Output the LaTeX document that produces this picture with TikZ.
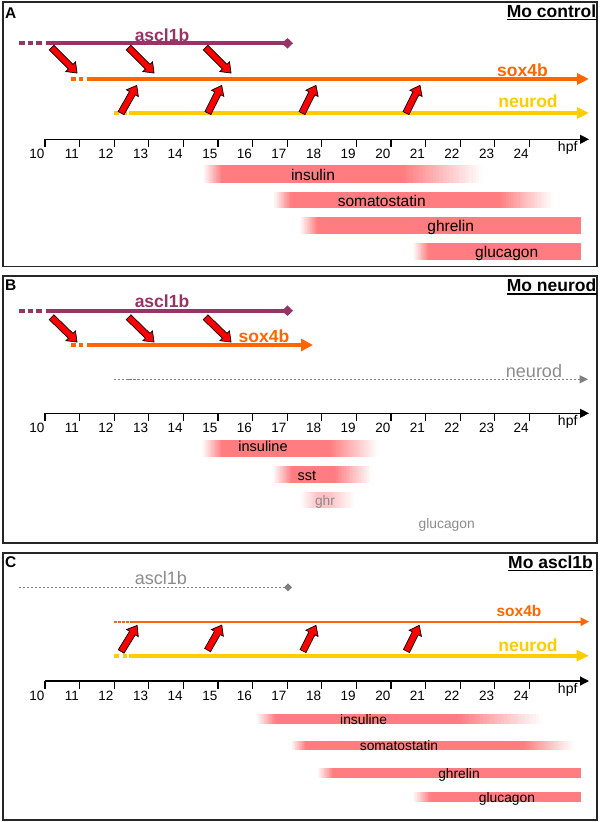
\documentclass[tikz,border=0pt]{standalone}
\usepackage{fontspec}
\setmainfont{Liberation Sans}
\usetikzlibrary{arrows.meta,shapes.arrows,calc}
\definecolor{ascl}{RGB}{153,51,102}
\definecolor{soxc}{RGB}{255,102,0}
\definecolor{neuc}{RGB}{255,204,0}
\definecolor{barc}{RGB}{255,125,128}
\definecolor{barl}{RGB}{255,195,198}
\definecolor{grayl}{RGB}{128,128,128}
\definecolor{grayt}{RGB}{140,140,140}
\newcommand\fsz[1]{\fontsize{#1}{#1}\selectfont}
% stepped gradient from white (at x0) to colour (at x1), x0<x1
\newcommand\fadein[5]{%
  \foreach \k in {0,...,23}{%
    \pgfmathsetmacro\pc{(\k+0.5)/24*100}%
    \fill[#5!\pc!white] ({#3+(#4-(#3))*\k/24},#1) rectangle ({#3+(#4-(#3))*(\k+1)/24+0.25},#2);}}
% stepped gradient from colour (at x2) to white (at x3), x2<x3
\newcommand\fadeout[5]{%
  \foreach \k in {0,...,23}{%
    \pgfmathsetmacro\pc{100-(\k+0.5)/24*100}%
    \fill[#5!\pc!white] ({#3+(#4-(#3))*\k/24-0.25},#1) rectangle ({#3+(#4-(#3))*(\k+1)/24},#2);}}
% fading bar: y1 y2 x0 x1 x2 x3 colour
\newcommand\fadebar[7]{%
  \fadein{#1}{#2}{#3}{#4}{#7}
  \fill[#7] (#4,#1) rectangle (#5,#2);
  \ifdim#6pt>#5pt \fadeout{#1}{#2}{#5}{#6}{#7}\fi}
% block arrow: name, start, end
\newcommand\barrow[3]{%
  \path let \p1=#2, \p2=#3, \n1={veclen(\x2-\x1,\y2-\y1)} in
    #2 -- #3 node[blockarr, midway, minimum height=\n1, name=#1]{};}
% time axis: y, prefix
\newcommand\timeaxis[2]{%
  \draw[axisline] (45,#1) -- (589,#1);
  \foreach \t [count=\i from 0] in {10,...,24}{%
    \draw[tickline] (45+34.6*\i,#1) -- (45+34.6*\i,#1+8);
    \node[ticklab] (#2t\t) at (45+34.6*\i-0.5,#1+14.5) {\t};}
  \node[font=\fsz{14}, inner sep=0] (#2hpf) at (567.7,#1+9) {hpf};}
\begin{document}
\begin{tikzpicture}[x=1pt,y=-1pt,
  gl/.style={line width=4pt},
  blockarr/.style={single arrow, draw=black, line width=0.7pt, fill=red,
    inner xsep=0pt, inner ysep=3pt, text height=0pt, text depth=0pt,
    single arrow head extend=3.5pt, single arrow tip angle=75, sloped},
  tickline/.style={line width=1.2pt},
  axisline/.style={line width=1.3pt,-{Triangle[length=9pt,width=9pt]}},
  border/.style={draw=black!85, line width=1.3pt},
  panellab/.style={font=\bfseries\fsz{15.5}, anchor=base west, inner sep=0pt},
  ptitle/.style={font=\bfseries\fsz{17.5}, anchor=base east, inner sep=0pt},
  genebold/.style={font=\bfseries\fsz{17.5}, anchor=base, inner sep=0pt},
  genegray/.style={font=\fsz{18}, text=grayt, anchor=base, inner sep=0pt},
  barlab/.style={font=\fsz{15.5}, anchor=base, inner sep=0pt},
  barlabs/.style={font=\fsz{14.5}, anchor=base, inner sep=0pt},
  barlabc/.style={font=\fsz{13.8}, anchor=base, inner sep=0pt},
  ticklab/.style={font=\fsz{13.5}, anchor=east, inner sep=0pt},
  dotline/.style={grayl, line width=1.5pt, dash pattern=on 2pt off 2pt},
  under/.style={line width=1.3pt}
]
\useasboundingbox (0,0) rectangle (600,822);
\fill[white] (0,0) rectangle (600,822);

% ================= Panel A =================
\draw[border] (3,2) rectangle (597,266.5);
\node[panellab] (labA) at (5,18.3) {A};
\node[ptitle] (titA) at (596.5,17.3) {Mo control};
\draw[under] ([yshift=-2.5pt]titA.base west) -- ([yshift=-2.5pt]titA.base east);

\draw[gl, ascl, dash pattern=on 5.5pt off 3pt] (19,43.3) -- (42,43.3);
\draw[gl, ascl, -{Turned Square[length=11pt,width=10.5pt]}] (45.7,43.3) -- (293,43.3);
\node[genebold, text=ascl] (A-ascl) at (162,41.5) {ascl1b};

\draw[gl, soxc, dash pattern=on 4.5pt off 3pt] (71,79) -- (84,79);
\draw[gl, soxc, -{Triangle[length=12pt,width=11pt]}] (87.3,79) -- (589,79);
\node[genebold, text=soxc] (A-sox) at (522.5,76) {sox4b};

\draw[gl, neuc, dash pattern=on 4.7pt off 4.3pt] (114,113) -- (127,113);
\draw[gl, neuc, -{Triangle[length=12pt,width=11pt]}] (129,113) -- (589,113);
\node[genebold, text=neuc] (A-neu) at (528,107.3) {neurod};

\barrow{aA1}{(50,46)}{(75.5,71.5)}
\barrow{aA2}{(127,46)}{(152.5,71.5)}
\barrow{aA3}{(204,46)}{(229.5,71.5)}
\barrow{aA4}{(120,115)}{(135.7,87.3)}
\barrow{aA5}{(207,115)}{(220.7,87.3)}
\barrow{aA6}{(301,115)}{(315,87.3)}
\barrow{aA7}{(405,115)}{(419,87.3)}

\timeaxis{139.3}{A}

\fadebar{165}{182.7}{203}{222}{403}{483}{barc}
\node[barlab] (A-ins) at (313,180) {insulin};
\fadebar{191.7}{208.3}{273.6}{291}{500}{553}{barc}
\node[barlab] (A-som) at (381.7,206) {somatostatin};
\fadebar{217.3}{234.3}{300}{317.6}{581}{581}{barc}
\node[barlab] (A-ghr) at (450.7,231) {ghrelin};
\fadebar{243.3}{260}{413}{428.6}{581}{581}{barc}
\node[barlab] (A-glu) at (506.7,257) {glucagon};

% ================= Panel B =================
\draw[border] (3,276) rectangle (597,543);
\node[panellab] (labB) at (5,290.7) {B};
\node[ptitle] (titB) at (596.5,291.5) {Mo neurod};
\draw[under] ([yshift=-2.5pt]titB.base west) -- ([yshift=-2.5pt]titB.base east);

\draw[gl, ascl, dash pattern=on 5.5pt off 3pt] (19,310.7) -- (42,310.7);
\draw[gl, ascl, -{Turned Square[length=11pt,width=10.5pt]}] (45.7,310.7) -- (293,310.7);
\node[genebold, text=ascl] (B-ascl) at (162,307.7) {ascl1b};

\draw[gl, soxc, dash pattern=on 4.5pt off 3pt] (71,345) -- (84,345);
\draw[gl, soxc, -{Triangle[length=12pt,width=12pt]}] (87.3,345) -- (313,345);
\node[genebold, text=soxc] (B-sox) at (264,342.7) {sox4b};

\draw[dotline, -{Triangle[length=8.5pt,width=8pt]}] (114,379.3) -- (588,379.3);
\draw[grayl, line width=1.5pt, dash pattern=on 3pt off 1.5pt] (128,379.3) -- (143,379.3);
\node[genegray] (B-neu) at (534,377.3) {neurod};

\barrow{aB1}{(50,315.7)}{(75.5,340.5)}
\barrow{aB2}{(127,315.7)}{(152.5,340.5)}
\barrow{aB3}{(204,315.7)}{(229.5,340.5)}

\timeaxis{413.3}{B}

\fadebar{440}{456.7}{202}{222}{330}{378}{barc}
\node[barlabs] (B-ins) at (263,451.7) {insuline};
\fadebar{465.7}{482.7}{273}{292}{335}{372}{barc}
\node[barlabs] (B-sst) at (307,480) {sst};
\fadebar{491.7}{508.3}{300}{318}{330}{355}{barl}
\node[barlabc, text=grayt] (B-ghr) at (325,505) {ghr};
\node[barlabc, text=grayt] (B-glu) at (446.7,528) {glucagon};

% ================= Panel C =================
\draw[border] (3,553) rectangle (597,820);
\node[panellab] (labC) at (5,567.3) {C};
\node[ptitle] (titC) at (593,568.3) {Mo ascl1b};
\draw[under] ([yshift=-2.5pt]titC.base west) -- ([yshift=-2.5pt]titC.base east);

\draw[dotline, -{Turned Square[length=8pt,width=8pt]}] (19,587.3) -- (292,587.3);
\node[genegray] (C-ascl) at (161,584) {ascl1b};

\draw[soxc, line width=1.7pt, dash pattern=on 2.5pt off 1.5pt] (114,621.7) -- (131.7,621.7);
\draw[soxc, line width=1.7pt, -{Triangle[length=8.5pt,width=8.5pt]}] (132,621.7) -- (589,621.7);
\node[font=\bfseries\fsz{15.5}, text=soxc, anchor=base, inner sep=0pt] (C-sox) at (519,616) {sox4b};

\draw[gl, neuc, dash pattern=on 4.7pt off 4.3pt] (114,655.7) -- (127,655.7);
\draw[gl, neuc, -{Triangle[length=12.5pt,width=11pt]}] (129,655.7) -- (589,655.7);
\node[genebold, text=neuc] (C-neu) at (528,651) {neurod};

\barrow{aC1}{(120,653.3)}{(136,627.3)}
\barrow{aC2}{(206.5,652)}{(220.7,627)}
\barrow{aC3}{(302,653)}{(315,627.3)}
\barrow{aC4}{(405.5,653)}{(418.3,627.3)}

\timeaxis{681}{C}

\fadebar{714.3}{724.3}{256.4}{275.5}{459}{543}{barc}
\node[barlabc] (C-ins) at (363.6,724.5) {insuline};
\fadebar{740.5}{750}{291}{306}{524}{574}{barc}
\node[barlabc] (C-som) at (399,750.5) {somatostatin};
\fadebar{768}{777.5}{317.6}{333}{581}{581}{barc}
\node[barlabc] (C-ghr) at (459,778.5) {ghrelin};
\fadebar{792}{801.5}{413}{430.5}{581}{581}{barc}
\node[barlabc] (C-glu) at (507,802) {glucagon};
\end{tikzpicture}
\end{document}
